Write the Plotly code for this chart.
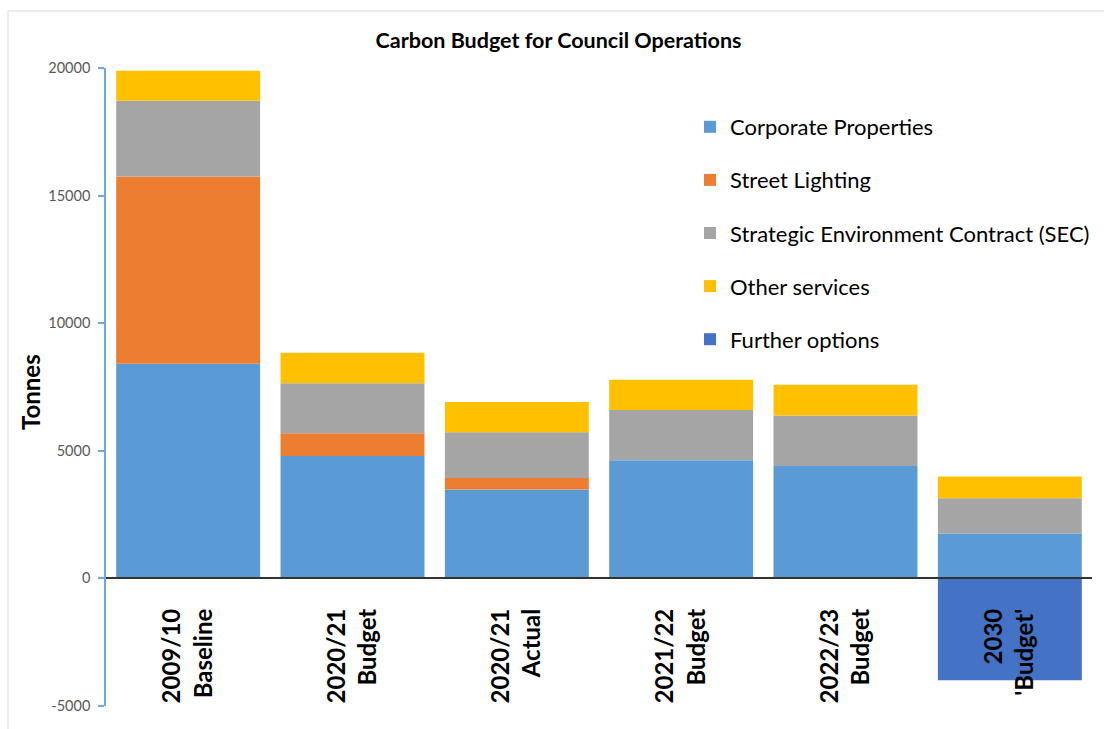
import plotly.graph_objects as go

# Carbon budget by year (tonnes CO2e), stacked by source
categories = ["2009/10<br>Baseline", "2020/21<br>Budget", "2020/21<br>Actual",
              "2021/22<br>Budget", "2022/23<br>Budget", "2030<br>'Budget'"]
corporate_properties = [8415, 4800, 3483, 4630, 4407, 1761]
street_lighting = [7331, 888, 455, 0, 0, 0]
strategic_env_contract = [2974, 1957, 1788, 1969, 1973, 1382]
other_services = [1175, 1200, 1186, 1189, 1213, 849]
further_options = [0, 0, 0, 0, 0, -3992]

series = [
    ("Corporate Properties", corporate_properties, "#5B9BD5"),
    ("Street Lighting", street_lighting, "#ED7D31"),
    ("Strategic Environment Contract (SEC)", strategic_env_contract, "#A5A5A5"),
    ("Other services", other_services, "#FFC000"),
    ("Further options", further_options, "#4472C4"),
]

FONT = "Lato"

fig = go.Figure()
for i, (name, vals, color) in enumerate(series):
    fig.add_trace(go.Bar(
        x=categories, y=vals, name=name,
        marker=dict(color=color, line=dict(width=0)),
        legendgroup=f"g{i}",
    ))

fig.update_layout(
    width=1104, height=729,
    barmode="relative",
    bargap=0.124,
    plot_bgcolor="white", paper_bgcolor="white",
    margin=dict(l=106, r=12, t=68, b=23, autoexpand=False),
    font=dict(family=FONT, color="#262626"),
    title=dict(
        text="<b>Carbon Budget for Council Operations</b>",
        x=0.459, xref="paper", xanchor="center",
        y=1 - 40 / 729, yref="container", yanchor="middle",
        font=dict(family=FONT, size=21.5, color="#000000"),
    ),
    xaxis=dict(
        type="category",
        anchor="free", position=0.2,
        showline=True, linecolor="#333333", linewidth=1.5,
        ticks="", tickangle=-90,
        tickfont=dict(family=FONT, size=24, color="#000000", weight="bold"),
        ticklabelstandoff=20,
        showgrid=False,
    ),
    yaxis=dict(
        range=[-5000, 20000],
        tickvals=[-5000, 0, 5000, 10000, 15000, 20000],
        ticktext=["-5000", "0", "5000", "10000", "15000", "20000"],
        showline=True, linecolor="#6FA8DC", linewidth=1.5,
        ticks="outside", ticklen=6, tickcolor="#6FA8DC", tickwidth=1.5,
        tickfont=dict(family=FONT, size=14.5, color="#595959"),
        ticklabelstandoff=5,
        showgrid=False, zeroline=False,
    ),
    legend=dict(
        x=(690 - 106) / 986, xanchor="left",
        y=(706 - 106) / 638, yanchor="top",
        traceorder="grouped",
        tracegroupgap=21.5,
        font=dict(family=FONT, size=22, color="#000000"),
        bgcolor="rgba(0,0,0,0)",
    ),
    annotations=[dict(
        text="<b>Tonnes</b>", textangle=-90,
        xref="paper", yref="paper",
        x=(30 - 106) / 986, y=(706 - 392) / 638,
        xanchor="center", yanchor="middle", showarrow=False,
        font=dict(family=FONT, size=24, color="#000000"),
    )],
    shapes=[dict(
        type="rect", xref="paper", yref="paper",
        x0=(8 - 106) / 986, x1=1.2, y0=-0.2, y1=(706 - 11) / 638,
        line=dict(color="#D9D9D9", width=1), fillcolor="rgba(0,0,0,0)",
        layer="below",
    )],
)

fig.write_html("out.html")
